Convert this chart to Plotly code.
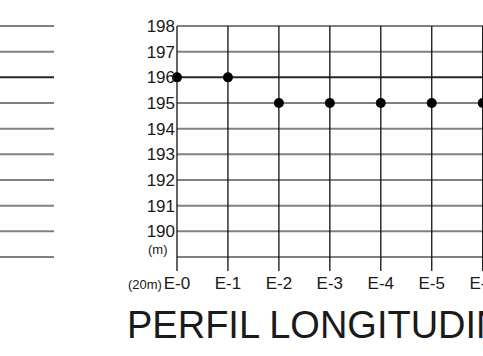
import plotly.graph_objects as go

# stations along the profile and ground level at each one
stations = ["E-0", "E-1", "E-2", "E-3", "E-4", "E-5", "E-6"]
levels_m = [196, 196, 195, 195, 195, 195, 195]

# elevation grid of the profile sheet
grid_levels = [189, 190, 191, 192, 193, 194, 195, 196, 197, 198]
tick_levels = [190, 191, 192, 193, 194, 195, 196, 197, 198]
reference_level = 196

FONT = "Liberation Sans, Arial, sans-serif"
W, H = 483, 356

# pixel scale of the sheet
x0_px, dx_px = 177, 50.95
y0_px, dy_px = 26, 25.67
x_range = [-x0_px / dx_px, (W - x0_px) / dx_px]
y_range = [198 - (H - y0_px) / dy_px, 198 + y0_px / dy_px]

x_pos = list(range(len(stations)))
left_end = (54 - x0_px) / dx_px

fig = go.Figure()

# horizontal grid lines (gray), also the cut-off sheet at the left
hx, hy = [], []
for lv in grid_levels:
    if lv == reference_level:
        continue
    hx += [x_range[0], left_end, None, 0, 7, None]
    hy += [lv, lv, None, lv, lv, None]
fig.add_trace(go.Scatter(x=hx, y=hy, mode="lines",
                         line=dict(color="#808080", width=2),
                         hoverinfo="skip", showlegend=False))

# reference level line (dark)
fig.add_trace(go.Scatter(x=[x_range[0], left_end, None, 0, 7],
                         y=[reference_level] * 2 + [None] + [reference_level] * 2,
                         mode="lines", line=dict(color="#262626", width=2),
                         hoverinfo="skip", showlegend=False))

# vertical station lines
vx, vy = [], []
for xp in x_pos:
    vx += [xp, xp, None]
    vy += [198, 189 - 14 / dy_px, None]
fig.add_trace(go.Scatter(x=vx, y=vy, mode="lines",
                         line=dict(color="#111111", width=1.3),
                         hoverinfo="skip", showlegend=False))

# ground points
fig.add_trace(go.Scatter(x=x_pos, y=levels_m, mode="markers",
                         marker=dict(color="black", size=10),
                         showlegend=False))

fig.update_layout(
    width=W, height=H,
    margin=dict(l=0, r=0, t=0, b=0, pad=0),
    paper_bgcolor="white", plot_bgcolor="white",
    font=dict(family=FONT, color="#1a1a1a"),
    xaxis=dict(range=x_range, tickvals=x_pos, ticktext=stations,
               showgrid=False, zeroline=False, showline=False,
               anchor="free", position=1 - 271 / H, automargin=False,
               ticklabeloverflow="allow",
               tickfont=dict(size=17), ticks=""),
    yaxis=dict(range=y_range, tickvals=tick_levels,
               showgrid=False, zeroline=False, showline=False,
               anchor="free", position=x0_px / W, side="left",
               automargin=False, ticklabelstandoff=2,
               tickfont=dict(size=17), ticks=""),
)

fig.add_annotation(x=0, y=190, xref="x", yref="y", text="(m)",
                   showarrow=False, xanchor="right", yanchor="top",
                   xshift=-7, yshift=-9, font=dict(size=13))
fig.add_annotation(x=0, y=0, xref="x", yref="paper", text="(20m)",
                   showarrow=False, xanchor="right", yanchor="middle",
                   xshift=-13, yshift=H - 284, font=dict(size=13))
fig.add_annotation(x=125 / W, y=1 - 325 / H, xref="paper", yref="paper",
                   text="PERFIL LONGITUDINAL", showarrow=False,
                   xanchor="left", yanchor="middle", font=dict(size=38))

# the page's default body margin would shift the sheet by 8px
fig.write_html("out.html", config=dict(displayModeBar=False),
               post_script="document.body.style.margin='0';"
                           "document.body.style.overflow='hidden';")
